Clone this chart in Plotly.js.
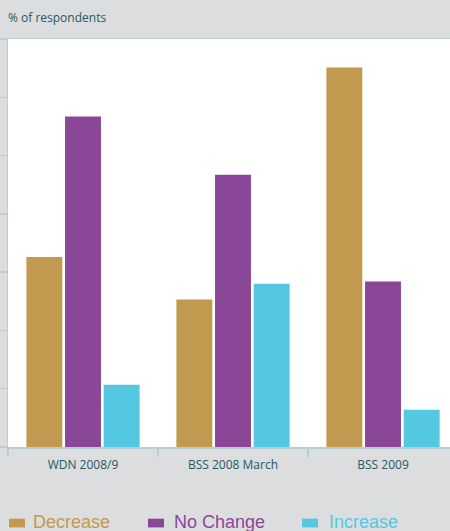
<!DOCTYPE html>
<html>
<head>
<meta charset="utf-8">
<script src="https://cdn.plot.ly/plotly-3.0.1.min.js"></script>
<style>
html,body{margin:0;padding:0;background:#dcdddf;overflow:hidden;}
#chart{width:450px;height:531px;}
</style>
</head>
<body>
<div id="chart"></div>
<script>
// ---- data ----
const categories = ["WDN 2008/9", "BSS 2008 March", "BSS 2009"];
const seriesNames = ["Decrease", "No Change", "Increase"];
const decreaseValues = [32.6, 25.3, 65.1];
const noChangeValues = [56.7, 46.7, 28.4];
const increaseValues = [10.7, 28.0, 6.4];
const yTitle = "% of respondents";

// ---- styles ----
const colors = ["#c19a50", "#8b4797", "#53c8e0"];
const axisColor = "#b7ced3";
const textColor = "#285860";

const seriesValues = [decreaseValues, noChangeValues, increaseValues];
const traces = seriesNames.map((name, i) => ({
  type: "bar",
  name: name,
  x: categories,
  y: seriesValues[i],
  marker: { color: colors[i], line: { width: 0 } },
  hoverinfo: "x+y+name"
}));

// plot area in pixels: left 8, right 450, top 39.3, bottom 447.3
const W = 450, H = 531;
const L = 8, T = 39.3, B = 447.3;
const plotW = W - L, plotH = B - T;
const px = v => (v - L) / plotW;
const py = v => (B - v) / plotH;

// custom legend (icon rectangles + coloured labels)
const legendIconX = [9, 148, 302];
const legendTextX = [31, 172, 327];
const shapes = [];
const annotations = [];
seriesNames.forEach((name, i) => {
  shapes.push({
    type: "rect", xref: "paper", yref: "paper",
    x0: px(legendIconX[i]), x1: px(legendIconX[i] + 16),
    y0: py(527.7), y1: py(519),
    fillcolor: colors[i], line: { width: 0 }
  });
  annotations.push({
    xref: "paper", yref: "paper",
    x: px(legendTextX[i]), y: py(522.5),
    xanchor: "left", yanchor: "middle",
    text: name, showarrow: false,
    font: { family: "Liberation Sans, Arial, sans-serif", size: 18, color: colors[i] }
  });
});

const layout = {
  width: W, height: H,
  margin: { l: L, r: 0, t: T, b: H - B, pad: 0 },
  paper_bgcolor: "#dcdddf",
  plot_bgcolor: "#ffffff",
  showlegend: false,
  barmode: "group",
  bargap: 0.227,
  bargroupgap: 0.07,
  title: {
    text: yTitle,
    x: 8 / W, xanchor: "left", xref: "container",
    y: 1 - 18 / H, yanchor: "middle", yref: "container",
    font: { family: "Open Sans, sans-serif", size: 12, weight: 500, color: textColor }
  },
  xaxis: {
    type: "category",
    range: [-0.5, -0.5 + plotW / 150],
    showline: true, linecolor: axisColor, linewidth: 1.5,
    mirror: true,
    ticks: "outside", tickson: "boundaries", ticklen: 8, tickcolor: axisColor, tickwidth: 1.5,
    ticklabelstandoff: 6,
    showgrid: false,
    tickfont: { family: "Open Sans, sans-serif", size: 12, weight: 500, color: textColor },
    fixedrange: true
  },
  yaxis: {
    range: [0, 70], dtick: 10,
    showline: true, linecolor: axisColor, linewidth: 1.5,
    ticks: "outside", ticklen: 8, tickcolor: axisColor, tickwidth: 1.5,
    showticklabels: false, showgrid: false, zeroline: false,
    fixedrange: true
  },
  shapes: shapes,
  annotations: annotations
};

Plotly.newPlot("chart", traces, layout, { displayModeBar: false, staticPlot: true });
</script>
</body>
</html>
